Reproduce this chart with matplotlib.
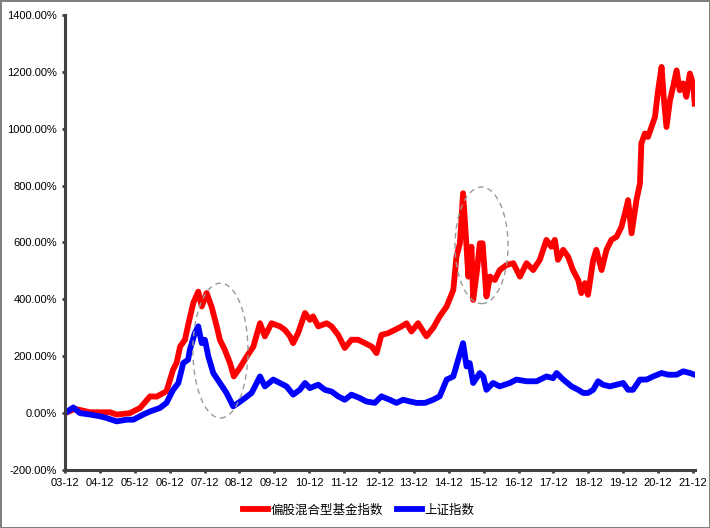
import matplotlib
matplotlib.use("Agg")
import matplotlib.pyplot as plt
from matplotlib.patches import Ellipse

plt.rcParams['font.family'] = ['Liberation Sans', 'Noto Sans CJK SC', 'DejaVu Sans']

# years since 2003-12
fund_t = [0.00, 0.29, 0.72, 1.29, 1.48, 1.86, 2.15, 2.44, 2.63, 2.91, 3.10, 3.20, 3.30, 3.44,
          3.53, 3.68, 3.82, 3.92, 4.06, 4.20, 4.35, 4.44, 4.58, 4.73, 4.84, 5.01, 5.21, 5.40,
          5.59, 5.73, 5.92, 6.16, 6.30, 6.45, 6.54, 6.68, 6.88, 7.02, 7.11, 7.26, 7.50, 7.64,
          7.83, 8.02, 8.21, 8.40, 8.60, 8.79, 8.93, 9.07, 9.26, 9.46, 9.65, 9.79, 9.93, 10.12,
          10.36, 10.55, 10.74, 10.94, 11.13, 11.22, 11.32, 11.41, 11.51, 11.56, 11.65, 11.70,
          11.80, 11.89, 11.97, 12.08, 12.18, 12.32, 12.46, 12.66, 12.85, 13.04, 13.23, 13.42,
          13.61, 13.80, 13.94, 14.04, 14.13, 14.28, 14.42, 14.56, 14.71, 14.80, 14.90, 14.99,
          15.14, 15.23, 15.38, 15.52, 15.66, 15.81, 15.95, 16.05, 16.14, 16.24, 16.38, 16.48,
          16.52, 16.62, 16.71, 16.81, 16.91, 17.00, 17.10, 17.16, 17.24, 17.34, 17.43, 17.53,
          17.62, 17.72, 17.81, 17.91, 18.00, 18.05]
fund_v = [0, 15, 3, 3, -5, 0, 18, 59, 58, 77, 153, 177, 234, 258,
          310, 388, 427, 375, 422, 375, 305, 258, 223, 176, 129, 159, 199, 234,
          316, 270, 316, 305, 293, 270, 246, 281, 352, 328, 340, 305, 316, 305,
          275, 229, 258, 258, 246, 234, 211, 275, 281, 293, 305, 316, 287, 316,
          270, 299, 340, 375, 433, 550, 597, 773, 585, 480, 585, 398,
          492, 597, 597, 410, 480, 468, 503, 521, 527, 480, 527, 503,
          539, 609, 585, 609, 539, 574, 550, 503, 468, 422, 457, 416,
          539, 574, 503, 574, 609, 620, 655, 702, 749, 632, 749, 808,
          948, 983, 971, 1006, 1041, 1135, 1217, 1112, 1006, 1100, 1147, 1205,
          1135, 1159, 1112, 1194, 1159, 1088]

sh_t = [0.00, 0.24, 0.43, 0.72, 1.00, 1.19, 1.48, 1.77, 1.96, 2.24, 2.44, 2.72, 2.91, 3.10,
        3.25, 3.39, 3.53, 3.58, 3.72, 3.82, 3.92, 4.01, 4.11, 4.25, 4.44, 4.63, 4.82, 4.97,
        5.16, 5.35, 5.59, 5.73, 5.97, 6.16, 6.35, 6.54, 6.73, 6.88, 7.02, 7.26, 7.45, 7.64,
        7.83, 8.02, 8.21, 8.45, 8.64, 8.88, 9.07, 9.31, 9.50, 9.69, 9.89, 10.08, 10.32, 10.55,
        10.74, 10.94, 11.13, 11.27, 11.41, 11.51, 11.60, 11.70, 11.89, 11.99, 12.08, 12.27,
        12.46, 12.75, 12.94, 13.23, 13.52, 13.80, 13.99, 14.09, 14.28, 14.52, 14.71, 14.85,
        14.99, 15.14, 15.28, 15.42, 15.62, 15.81, 16.00, 16.14, 16.28, 16.48, 16.67, 16.86,
        17.10, 17.29, 17.53, 17.72, 17.91, 18.05]
sh_v = [0, 20, 0, -5, -11, -17, -29, -23, -23, -5, 6, 18, 36, 82,
        106, 176, 188, 223, 281, 305, 246, 258, 199, 141, 106, 71, 24, 36,
        53, 71, 129, 94, 118, 106, 94, 65, 82, 106, 88, 100, 82, 76,
        59, 47, 65, 53, 41, 36, 59, 47, 36, 47, 41, 36, 36, 47,
        59, 118, 129, 188, 246, 164, 176, 106, 141, 129, 82, 106,
        94, 106, 118, 112, 112, 129, 123, 141, 118, 94, 82, 71,
        71, 82, 112, 100, 94, 100, 106, 82, 82, 118, 118, 129,
        141, 135, 135, 147, 141, 135]

x_labels = ['03-12', '04-12', '05-12', '06-12', '07-12', '08-12', '09-12', '10-12', '11-12',
            '12-12', '13-12', '14-12', '15-12', '16-12', '17-12', '18-12', '19-12', '20-12', '21-12']
y_ticks = [-200, 0, 200, 400, 600, 800, 1000, 1200, 1400]

fig = plt.figure(figsize=(7.1, 5.28), dpi=100)
fig.patch.set_edgecolor('#808080')
fig.patch.set_linewidth(2)
ax = fig.add_axes([0.0915, 0.1098, 0.887, 0.862])

ax.plot(fund_t, fund_v, color='#FF0000', lw=4.2, solid_joinstyle='round', label='偏股混合型基金指数')
ax.plot(sh_t, sh_v, color='#0000FF', lw=4.2, solid_joinstyle='round', label='上证指数')

# highlighted regions
for cx, cy, w, h in [(4.456, 220, 1.58, 474), (11.94, 590, 1.52, 410)]:
    ax.add_patch(Ellipse((cx, cy), w, h, fill=False, ec='#999999', lw=1.0,
                         ls=(0, (4, 3)), zorder=3))

ax.set_xlim(0, 18.05)
ax.set_ylim(-200, 1400)
ax.set_xticks(range(len(x_labels)))
ax.set_xticklabels(x_labels)
ax.set_yticks(y_ticks)
ax.set_yticklabels([f'{v:.2f}%' for v in y_ticks])

for s in ['top', 'right']:
    ax.spines[s].set_visible(False)
for s in ['left', 'bottom']:
    ax.spines[s].set_color('#404040')
    ax.spines[s].set_linewidth(2.2)
ax.tick_params(axis='both', length=2.5, width=2, color='#404040', labelsize=8, pad=3)

fig.legend(loc='lower center', bbox_to_anchor=(0.505, 0.0), ncol=2, frameon=False,
           fontsize=9, handlelength=2.0, columnspacing=1.1, handletextpad=0.2)

fig.savefig('out.png', dpi=100)
